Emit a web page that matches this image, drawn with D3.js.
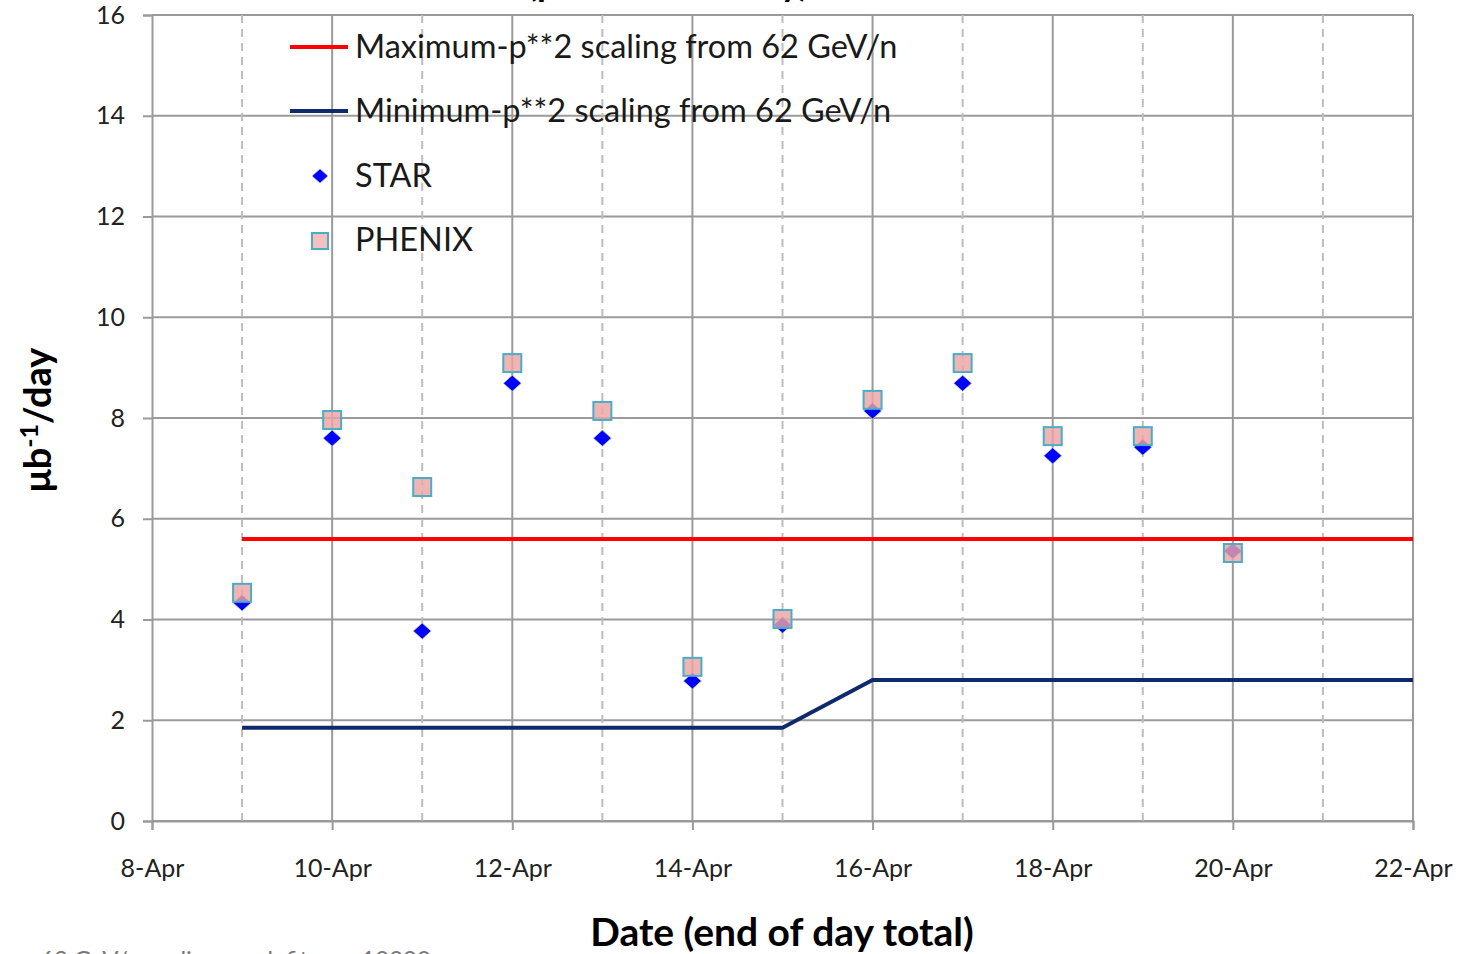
<!DOCTYPE html>
<html>
<head>
<meta charset="utf-8">
<script src="https://cdn.jsdelivr.net/npm/d3@7"></script>
<style>
  html, body { margin: 0; padding: 0; background: #fff; }
  svg { display: block; }
  text { font-family: Lato, "Open Sans", sans-serif; }
</style>
</head>
<body>
<svg id="chart" width="1464" height="954"></svg>
<script>
// ---- data ----
const days = ["9-Apr","10-Apr","11-Apr","12-Apr","13-Apr","14-Apr","15-Apr","16-Apr","17-Apr","18-Apr","19-Apr","20-Apr"];
const dayIndex = [1,2,3,4,5,6,7,8,9,10,11,12]; // days after 8-Apr
const starValues   = [4.33, 7.60, 3.77, 8.69, 7.60, 2.78, 3.89, 8.14, 8.69, 7.25, 7.42, 5.36];
const phenixValues = [4.53, 7.96, 6.63, 9.09, 8.14, 3.06, 4.01, 8.36, 9.09, 7.64, 7.64, 5.32];
const maxLineX = [1, 14];
const maxLineY = [5.60, 5.60];
const minLineX = [1, 7, 8, 14];
const minLineY = [1.85, 1.85, 2.80, 2.80];
const xTickIndex = [0, 2, 4, 6, 8, 10, 12, 14];
const xTickLabels = ["8-Apr","10-Apr","12-Apr","14-Apr","16-Apr","18-Apr","20-Apr","22-Apr"];
const xMinorIndex = [1, 3, 5, 7, 9, 11, 13];
const yTicks = [0, 2, 4, 6, 8, 10, 12, 14, 16];
const legendLabels = ["Maximum-p**2 scaling from 62 GeV/n", "Minimum-p**2 scaling from 62 GeV/n", "STAR", "PHENIX"];

(function () {
// ---- layout ----
const svg = d3.select("#chart");
const pL = 152, pR = 1413, pT = 15, pB = 821;
const x = d3.scaleLinear().domain([0, 14]).range([pL, pR]);
const y = d3.scaleLinear().domain([0, 16]).range([pB, pT]);

const gridColor = "#9a9a9a";

// clipped title (only its lower part is visible in the frame)
svg.append("text")
  .attr("x", 668).attr("y", -4)
  .attr("text-anchor", "middle")
  .attr("font-size", 36).attr("font-weight", "bold")
  .attr("fill", "#000")
  .text("(per calendar day)");

// horizontal gridlines
svg.append("g").selectAll("line").data(yTicks).join("line")
  .attr("x1", pL).attr("x2", pR)
  .attr("y1", d => y(d)).attr("y2", d => y(d))
  .attr("stroke", gridColor).attr("stroke-width", 2);

// vertical major gridlines
svg.append("g").selectAll("line").data(xTickIndex.slice(1)).join("line")
  .attr("x1", d => x(d)).attr("x2", d => x(d))
  .attr("y1", pT).attr("y2", pB)
  .attr("stroke", gridColor).attr("stroke-width", 2);

// vertical minor dashed gridlines
svg.append("g").selectAll("line").data(xMinorIndex).join("line")
  .attr("x1", d => x(d)).attr("x2", d => x(d))
  .attr("y1", pT).attr("y2", pB)
  .attr("stroke", "#bdbdbd").attr("stroke-width", 2)
  .attr("stroke-dasharray", "8,6");

// y axis
const yAxis = d3.axisLeft(y).tickValues(yTicks).tickSize(9).tickPadding(18).tickFormat(d3.format("d"));
const gy = svg.append("g").attr("transform", `translate(${pL},0)`).call(yAxis);
gy.select(".domain").attr("stroke", gridColor).attr("stroke-width", 2);
gy.selectAll(".tick line").attr("stroke", gridColor).attr("stroke-width", 2);
gy.selectAll(".tick text").attr("font-size", 25).attr("fill", "#222")
  .attr("font-family", "Lato, 'Open Sans', sans-serif");

// x axis
const xAxis = d3.axisBottom(x).tickValues(xTickIndex).tickSize(9).tickPadding(29)
  .tickFormat((d, i) => xTickLabels[i]);
const gx = svg.append("g").attr("transform", `translate(0,${pB})`).call(xAxis);
gx.select(".domain").attr("stroke", gridColor).attr("stroke-width", 2);
gx.selectAll(".tick line").attr("stroke", gridColor).attr("stroke-width", 2);
gx.selectAll(".tick text").attr("font-size", 25).attr("fill", "#222")
  .attr("font-family", "Lato, 'Open Sans', sans-serif");

// lines
const line = d3.line().x(d => x(d[0])).y(d => y(d[1]));
svg.append("path").datum(maxLineX.map((v, i) => [v, maxLineY[i]]))
  .attr("d", line).attr("fill", "none").attr("stroke", "#ff0000").attr("stroke-width", 4);
svg.append("path").datum(minLineX.map((v, i) => [v, minLineY[i]]))
  .attr("d", line).attr("fill", "none").attr("stroke", "#0f2a6b").attr("stroke-width", 4);

// STAR diamonds
const diamond = (cx, cy, r) => `M${cx},${cy - r * 0.9} L${cx + r},${cy} L${cx},${cy + r * 0.9} L${cx - r},${cy} Z`;
svg.append("g").selectAll("path").data(dayIndex).join("path")
  .attr("d", (d, i) => diamond(x(d), y(starValues[i]), 9))
  .attr("fill", "#0000ff").attr("stroke", "#c9d89a").attr("stroke-width", 0.8);

// PHENIX squares (semi-transparent, drawn over diamonds)
const sq = 18;
svg.append("g").selectAll("rect").data(dayIndex).join("rect")
  .attr("x", d => x(d) - sq / 2)
  .attr("y", (d, i) => y(phenixValues[i]) - sq / 2)
  .attr("width", sq).attr("height", sq)
  .attr("fill", "#eba3a3").attr("fill-opacity", 0.82)
  .attr("stroke", "#4bacc6").attr("stroke-width", 2);

// legend
const legY = [47, 111, 176, 240];
const lg = svg.append("g");
lg.append("line").attr("x1", 290).attr("x2", 348).attr("y1", legY[0]).attr("y2", legY[0])
  .attr("stroke", "#ff0000").attr("stroke-width", 4);
lg.append("line").attr("x1", 290).attr("x2", 348).attr("y1", legY[1]).attr("y2", legY[1])
  .attr("stroke", "#0f2a6b").attr("stroke-width", 4);
lg.append("path").attr("d", diamond(320, legY[2], 8)).attr("fill", "#0000ff")
  .attr("stroke", "#c9d89a").attr("stroke-width", 0.8);
lg.append("rect").attr("x", 320 - 8).attr("y", legY[3] + 1 - 8).attr("width", 16).attr("height", 16)
  .attr("fill", "#f7c0c0").attr("stroke", "#4bacc6").attr("stroke-width", 2);
lg.selectAll("text").data(legendLabels).join("text")
  .attr("x", 355).attr("y", (d, i) => legY[i])
  .attr("dy", "0.35em")
  .attr("font-size", 32.5).attr("fill", "#1a1a1a")
  .text(d => d);

// axis titles
svg.append("text")
  .attr("transform", "translate(51,420) rotate(-90)")
  .attr("text-anchor", "middle")
  .attr("font-size", 38).attr("font-weight", "bold").attr("fill", "#000")
  .html('μb<tspan dy="-13" font-size="25">-1</tspan><tspan dy="13">/day</tspan>');

svg.append("text")
  .attr("x", 782).attr("y", 946)
  .attr("text-anchor", "middle")
  .attr("font-size", 39).attr("font-weight", "bold").attr("fill", "#000")
  .text("Date (end of day total)");

// clipped footnote (only the top of it is visible)
svg.append("text")
  .attr("x", 40).attr("y", 968)
  .attr("font-size", 24).attr("fill", "#777")
  .text("62 GeV/n scaling, peak fit, run 10000");
})();
</script>
</body>
</html>
